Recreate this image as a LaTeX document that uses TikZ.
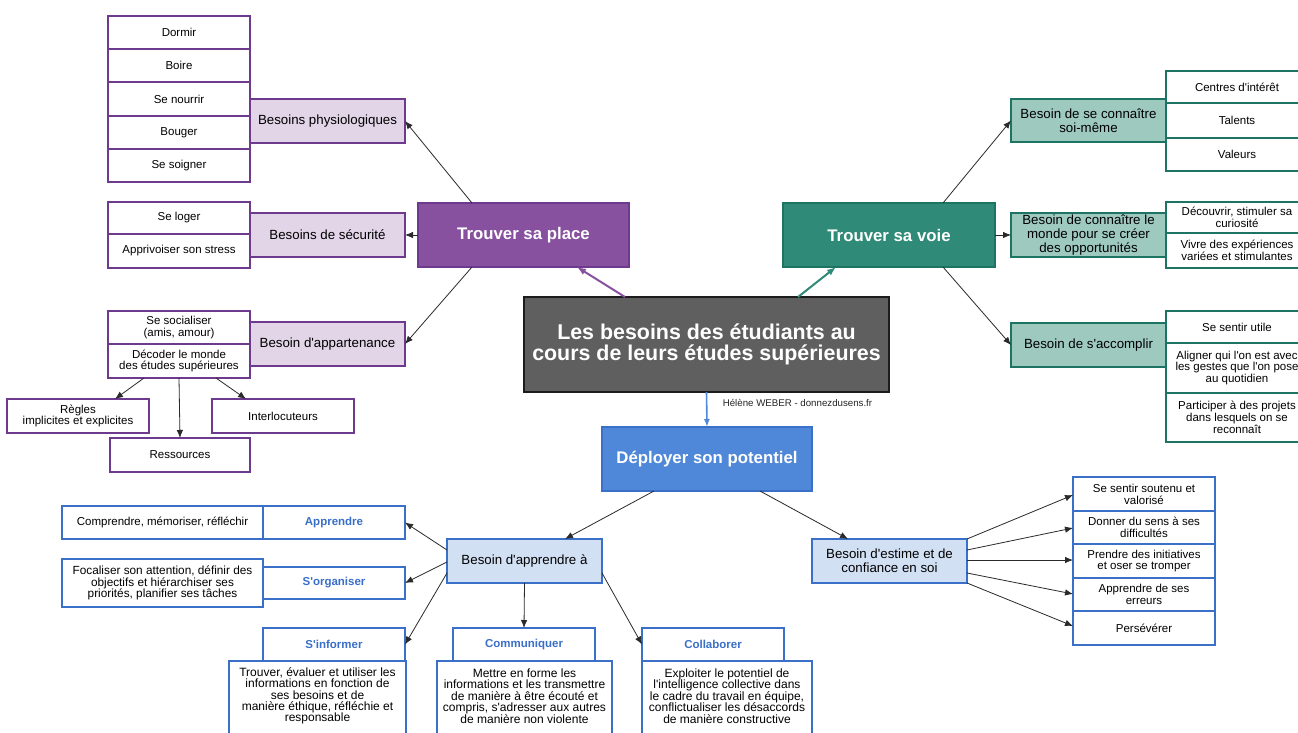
\documentclass[tikz,border=0pt]{standalone}
\usepackage{fontspec}
\setmainfont{Liberation Sans}
\newfontfamily\af{Liberation Sans}
\usetikzlibrary{arrows.meta,calc}
\definecolor{pDark}{HTML}{87519F}
\definecolor{pLine}{HTML}{6E3A8E}
\definecolor{pLight}{HTML}{E1D5E7}
\definecolor{tDark}{HTML}{2F8A77}
\definecolor{tLine}{HTML}{1E7462}
\definecolor{tLight}{HTML}{9DC9BF}
\definecolor{bDark}{HTML}{4F87D9}
\definecolor{bLine}{HTML}{3A70C8}
\definecolor{bLight}{HTML}{D2E0F4}
\definecolor{bText}{HTML}{3A6FC9}
\definecolor{gFill}{HTML}{5F5F5F}
\definecolor{gLine}{HTML}{1C1C1C}
\definecolor{cLine}{HTML}{2A2A2A}
\newcommand\bx[7]{\node[#6, minimum width={#4-#2}, minimum height={#5-#3}] (#1) at ({(#2+#4)/2},{(#3+#5)/2}) {#7};}
\tikzset{
  box/.style={draw, rectangle, inner sep=1pt, outer sep=0pt, align=center, line width=1.3pt},
  small/.style={font=\af\fontsize{11.5}{11.8}\selectfont},
  mid/.style={font=\af\fontsize{13.3}{13.8}\selectfont},
  head/.style={font=\af\bfseries\fontsize{16.8}{17}\selectfont, text=white},
  pchild/.style={box, small, draw=pLine, fill=white},
  pmid/.style={box, mid, draw=pLine, fill=pLight},
  phead/.style={box, head, draw=pLine, fill=pDark},
  tchild/.style={box, small, draw=tLine, fill=white},
  tmid/.style={box, mid, draw=tLine, fill=tLight},
  thead/.style={box, head, draw=tLine, fill=tDark},
  bchild/.style={box, small, draw=bLine, fill=white},
  blabel/.style={box, draw=bLine, fill=white, text=bText, font=\af\bfseries\fontsize{11.5}{11.6}\selectfont},
  bmid/.style={box, mid, draw=bLine, fill=bLight},
  bhead/.style={box, head, draw=bLine, fill=bDark},
  bodytext/.style={align=center, inner sep=0pt, font=\af\fontsize{12}{11.4}\selectfont},
  arr/.style={draw=cLine, line width=0.8pt, -{Latex[length=8pt,width=6.5pt]}}
}
\begin{document}
\af
\begin{tikzpicture}[x=1pt,y=-1pt]
\clip (0,0) rectangle (1298,733);
\fill[white] (0,0) rectangle (1298,733);
% purple branch
\bx{dormir}{108}{16}{250}{49}{pchild}{Dormir}
\bx{boire}{108}{49}{250}{82}{pchild}{Boire}
\bx{nourrir}{108}{82}{250}{116}{pchild}{Se nourrir}
\bx{bouger}{108}{116}{250}{149}{pchild}{Bouger}
\bx{soigner}{108}{149}{250}{182}{pchild}{Se soigner}
\bx{physio}{250}{99}{405}{143}{pmid}{Besoins physiologiques}
\bx{loger}{108}{202}{250}{234}{pchild}{Se loger}
\bx{stress}{108}{234}{250}{268}{pchild}{Apprivoiser son stress}
\bx{secur}{250}{213}{405}{257}{pmid}{Besoins de sécurité}
\bx{social}{108}{311}{250}{344}{pchild}{Se socialiser\\(amis, amour)}
\bx{decoder}{108}{344}{250}{378}{pchild}{Décoder le monde\\des études supérieures}
\bx{appart}{250}{322}{405}{366}{pmid}{Besoin d'appartenance}
\bx{regles}{7}{399}{149}{433}{pchild}{Règles\\implicites et explicites}
\bx{interloc}{212}{399}{354}{433}{pchild}{Interlocuteurs}
\bx{ressources}{110}{438}{250}{472}{pchild}{Ressources}
\bx{place}{418}{203}{629}{267}{phead}{Trouver sa place}
% center
\bx{center}{524}{297}{889}{392}{box, draw=gLine, fill=gFill, line width=2pt, text=white, font=\af\bfseries\fontsize{21.4}{21.5}\selectfont}{Les besoins des étudiants au\\cours de leurs études supérieures}
\node[font=\af\fontsize{9.7}{10}\selectfont, text=black!85, inner sep=0pt] (credit) at (797.5,403) {Hélène WEBER - donnezdusens.fr};
% teal branch
\bx{voie}{783}{203}{995}{267}{thead}{Trouver sa voie}
\bx{soi}{1011}{99}{1166}{142}{tmid}{Besoin de se connaître\\soi-même}
\bx{monde}{1011}{213}{1166}{257}{tmid}{Besoin de connaître le\\monde pour se créer\\des opportunités}
\bx{accomplir}{1011}{323}{1166}{367}{tmid}{Besoin de s'accomplir}
\bx{centres}{1166}{71}{1308}{103}{tchild}{Centres d'intérêt}
\bx{talents}{1166}{103}{1308}{138}{tchild}{Talents}
\bx{valeurs}{1166}{138}{1308}{171}{tchild}{Valeurs}
\bx{decouvrir}{1166}{202}{1308}{233}{tchild}{Découvrir, stimuler sa\\curiosité}
\bx{vivre}{1166}{233}{1308}{268}{tchild}{Vivre des expériences\\variées et stimulantes}
\bx{utile}{1166}{311}{1308}{343}{tchild}{Se sentir utile}
\bx{aligner}{1166}{343}{1308}{393}{tchild}{Aligner qui l'on est avec\\les gestes que l'on pose\\au quotidien}
\bx{participer}{1166}{393}{1308}{442}{tchild}{Participer à des projets\\dans lesquels on se\\reconnaît}
% blue branch
\bx{deploy}{602}{427}{812}{491}{bhead}{Déployer son potentiel}
\bx{apprA}{447}{539}{602}{583}{bmid}{Besoin d'apprendre à}
\bx{estime}{812}{539}{967}{583}{bmid}{Besoin d'estime et de\\confiance en soi}
\bx{comprendre}{62}{506}{263}{539}{bchild}{Comprendre, mémoriser, réfléchir}
\bx{apprendre}{263}{506}{405}{539}{blabel}{Apprendre}
\bx{focaliser}{62}{559}{263}{607}{bchild, font=\af\fontsize{11.8}{11.8}\selectfont}{Focaliser son attention, définir des\\objectifs et hiérarchiser ses\\priorités, planifier ses tâches}
\bx{organiser}{263}{567}{405}{599}{blabel}{S'organiser}
\bx{informerH}{263}{628}{405}{661}{blabel}{S'informer}
\bx{informerB}{229}{661}{406}{745}{box, draw=bLine, fill=white}{}
\node[bodytext] (informerT) at (317.5,696) {Trouver, évaluer et utiliser les\\informations en fonction de\\ses besoins et de\\manière éthique, réfléchie et\\responsable};
\bx{commH}{453}{628}{595}{661}{blabel}{Communiquer}
\bx{commB}{437}{661}{612}{745}{box, draw=bLine, fill=white}{}
\node[bodytext] (commT) at (524.5,696) {Mettre en forme les\\informations et les transmettre\\de manière à être écouté et\\compris, s'adresser aux autres\\de manière non violente};
\bx{collabH}{642}{628}{784}{661}{blabel}{Collaborer}
\bx{collabB}{642}{661}{812}{745}{box, draw=bLine, fill=white}{}
\node[bodytext] (collabT) at (727,696) {Exploiter le potentiel de\\l'intelligence collective dans\\le cadre du travail en équipe,\\conflictualiser les désaccords\\de manière constructive};
\bx{soutenu}{1073}{477}{1215}{511}{bchild}{Se sentir soutenu et\\valorisé}
\bx{sens}{1073}{511}{1215}{544}{bchild}{Donner du sens à ses\\difficultés}
\bx{initiatives}{1073}{544}{1215}{578}{bchild}{Prendre des initiatives\\et oser se tromper}
\bx{erreurs}{1073}{578}{1215}{611}{bchild}{Apprendre de ses\\erreurs}
\bx{perseverer}{1073}{611}{1215}{645}{bchild}{Persévérer}
% connectors
\draw[arr] ($(place.north west)+(54,0)$) -- (physio.east);
\draw[arr] (place.west) -- (secur.east);
\draw[arr] ($(place.south west)+(54,0)$) -- (appart.east);
\draw[arr] ($(decoder.south west)+(36,0)$) -- ($(regles.north west)+(108,0)$);
\draw[arr] (decoder.south) -- (ressources.north);
\draw[arr] ($(decoder.south west)+(108,0)$) -- ($(interloc.north west)+(34,0)$);
\draw[draw=pDark, line width=2pt, -{Latex[length=9pt,width=7pt]}] ($(center.north west)+(101,0)$) -- ($(place.south west)+(159,0)$);
\draw[draw=tDark, line width=2pt, -{Latex[length=9pt,width=7pt]}] ($(center.north west)+(274,0)$) -- ($(voie.south west)+(53,0)$);
\draw[draw=bDark, line width=1.6pt, -{Latex[length=8pt,width=6pt]}] (center.south) -- (deploy.north);
\draw[arr] ($(voie.north west)+(160,0)$) -- (soi.west);
\draw[arr] (voie.east) -- (monde.west);
\draw[arr] ($(voie.south west)+(160,0)$) -- (accomplir.west);
\draw[arr] ($(deploy.south west)+(52,0)$) -- ($(apprA.north west)+(118,0)$);
\draw[arr] ($(deploy.south west)+(158,0)$) -- ($(estime.north west)+(36,0)$);
\draw[arr] ($(apprA.north west)+(0,11)$) -- (apprendre.east);
\draw[arr] ($(apprA.north west)+(0,23)$) -- (organiser.east);
\draw[arr] ($(apprA.north west)+(0,34)$) -- (informerH.east);
\draw[arr] (apprA.south) -- (commH.north);
\draw[arr] ($(apprA.north east)+(0,34)$) -- (collabH.west);
\draw[arr] (estime.north east) -- ($(soutenu.north west)+(0,18)$);
\draw[arr] ($(estime.north east)+(0,11)$) -- ($(sens.north west)+(0,17)$);
\draw[arr] ($(estime.north east)+(0,21)$) -- ($(initiatives.north west)+(0,16)$);
\draw[arr] ($(estime.north east)+(0,34)$) -- ($(erreurs.north west)+(0,16)$);
\draw[arr] (estime.south east) -- ($(perseverer.north west)+(0,15)$);
\end{tikzpicture}
\end{document}
